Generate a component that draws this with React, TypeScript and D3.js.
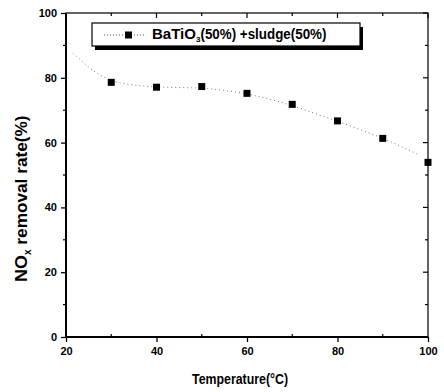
import React, { useRef, useEffect } from "react";
import * as d3 from "d3";

// measured points
const temps = [30, 40, 50, 60, 70, 80, 90, 100];
const removal = [78.6, 77.1, 77.3, 75.2, 71.8, 66.7, 61.3, 53.9];

// fitted (dotted) curve
const fitTemps = [21.5, 23, 25, 27, 30, 35, 40, 45, 50, 55, 60, 65, 70, 75, 80, 85, 90, 95, 98];
const fitValues = [87.6, 85.8, 83.3, 81.3, 79.2, 77.8, 77.2, 77.0, 76.8, 76.1, 75.0, 73.4, 71.4, 69.0, 66.6, 64.0, 61.3, 58.2, 56.2];

const xTicks = [20, 40, 60, 80, 100];
const xMinor = [30, 50, 70, 90];
const yTicks = [0, 20, 40, 60, 80, 100];
const yMinor = [10, 30, 50, 70, 90];

const legendLabel = "BaTiO";

export default function App() {
  const svgRef = useRef<SVGSVGElement>(null);

  useEffect(() => {
    if (!svgRef.current) return;
    const svg = d3.select(svgRef.current);
    svg.selectAll("*").remove();

    const margin = { top: 13, right: 16, bottom: 55, left: 66 };
    const width = 444;
    const height = 392;
    const innerWidth = width - margin.left - margin.right;
    const innerHeight = height - margin.top - margin.bottom;
    const font = "Liberation Sans, Arial, sans-serif";

    const x = d3.scaleLinear().domain([20, 100]).range([0, innerWidth]);
    const y = d3.scaleLinear().domain([0, 100]).range([innerHeight, 0]);

    const g = svg.append("g").attr("transform", `translate(${margin.left},${margin.top})`);

    // frame
    g.append("rect")
      .attr("width", innerWidth)
      .attr("height", innerHeight)
      .attr("fill", "none")
      .attr("stroke", "#111")
      .attr("stroke-width", 1.3);
    // heavier left/bottom axes
    g.append("line").attr("x1", 0).attr("x2", 0).attr("y1", 0).attr("y2", innerHeight)
      .attr("stroke", "#000").attr("stroke-width", 2);
    g.append("line").attr("x1", 0).attr("x2", innerWidth).attr("y1", innerHeight).attr("y2", innerHeight)
      .attr("stroke", "#000").attr("stroke-width", 2);

    // bottom axis
    const xAxis = g.append("g").attr("transform", `translate(0,${innerHeight})`)
      .call(d3.axisBottom(x).tickValues(xTicks).tickSize(5).tickFormat(d => `${d}`));
    xAxis.select(".domain").remove();
    xAxis.selectAll("line").attr("stroke", "#000").attr("stroke-width", 1.3);
    xAxis.selectAll("text")
      .attr("font-family", font).attr("font-size", 11).attr("font-weight", "bold")
      .attr("fill", "#000").attr("dy", "0.95em");
    g.append("g").selectAll("line").data(xMinor).join("line")
      .attr("x1", d => x(d)).attr("x2", d => x(d))
      .attr("y1", innerHeight).attr("y2", innerHeight - 3)
      .attr("stroke", "#000").attr("stroke-width", 1.2);

    // top axis ticks (inward)
    g.append("g").selectAll("line").data([...xTicks, ...xMinor]).join("line")
      .attr("x1", d => x(d)).attr("x2", d => x(d))
      .attr("y1", 0).attr("y2", d => (xTicks.includes(d) ? 5 : 3))
      .attr("stroke", "#000").attr("stroke-width", 1.2);

    // left axis
    const yAxis = g.append("g")
      .call(d3.axisLeft(y).tickValues(yTicks).tickSize(5).tickFormat(d => `${d}`));
    yAxis.select(".domain").remove();
    yAxis.selectAll("line").attr("stroke", "#000").attr("stroke-width", 1.3);
    yAxis.selectAll("text")
      .attr("font-family", font).attr("font-size", 11).attr("font-weight", "bold")
      .attr("fill", "#000").attr("x", -9);
    g.append("g").selectAll("line").data(yMinor).join("line")
      .attr("x1", 0).attr("x2", -3)
      .attr("y1", d => y(d)).attr("y2", d => y(d))
      .attr("stroke", "#000").attr("stroke-width", 1.2);

    // right axis ticks (inward)
    g.append("g").selectAll("line").data([...yTicks, ...yMinor]).join("line")
      .attr("x1", innerWidth).attr("x2", d => innerWidth - (yTicks.includes(d) ? 5 : 3))
      .attr("y1", d => y(d)).attr("y2", d => y(d))
      .attr("stroke", "#000").attr("stroke-width", 1.2);

    // fitted dotted curve
    const fitLine = d3.line<number>()
      .x((_, i) => x(fitTemps[i]))
      .y(d => y(d))
      .curve(d3.curveMonotoneX);
    g.append("path")
      .datum(fitValues)
      .attr("fill", "none")
      .attr("stroke", "#777")
      .attr("stroke-width", 1)
      .attr("stroke-dasharray", "1,3")
      .attr("d", fitLine);

    // markers
    g.append("g").selectAll("rect").data(removal).join("rect")
      .attr("x", (_, i) => x(temps[i]) - 3.5)
      .attr("y", d => y(d) - 3.5)
      .attr("width", 7)
      .attr("height", 7)
      .attr("fill", "#000");

    // legend
    const lg = svg.append("g").attr("transform", "translate(92,23)");
    lg.append("rect").attr("x", 3).attr("y", 4).attr("width", 268).attr("height", 23).attr("fill", "#000");
    lg.append("rect").attr("x", 0).attr("y", 0).attr("width", 268).attr("height", 23)
      .attr("fill", "#fff").attr("stroke", "#000").attr("stroke-width", 1.2);
    lg.append("line").attr("x1", 12).attr("x2", 54).attr("y1", 12).attr("y2", 12)
      .attr("stroke", "#555").attr("stroke-width", 1).attr("stroke-dasharray", "1,2");
    lg.append("rect").attr("x", 33).attr("y", 8.5).attr("width", 7).attr("height", 7).attr("fill", "#000");
    const lt = lg.append("text").attr("x", 60).attr("y", 16)
      .attr("font-family", font).attr("font-size", 14).attr("font-weight", "bold").attr("fill", "#000");
    lt.append("tspan").attr("textLength", 44).attr("lengthAdjust", "spacingAndGlyphs").text(legendLabel);
    lt.append("tspan").attr("font-size", 8).attr("dy", 3).text("3");
    lt.append("tspan").attr("dy", -3).attr("textLength", 126).attr("lengthAdjust", "spacingAndGlyphs")
      .text("(50%) +sludge(50%)");

    // axis titles
    svg.append("text")
      .attr("x", 192).attr("y", 384)
      .attr("textLength", 96).attr("lengthAdjust", "spacingAndGlyphs")
      .attr("font-family", font).attr("font-size", 14).attr("font-weight", "bold").attr("fill", "#000")
      .text("Temperature(°C)");

    const yt = svg.append("text")
      .attr("transform", "translate(27,282) rotate(-90)")
      .attr("font-family", font).attr("font-size", 17).attr("font-weight", "bold").attr("fill", "#000");
    yt.append("tspan").attr("textLength", 27).attr("lengthAdjust", "spacingAndGlyphs").text("NO");
    yt.append("tspan").attr("font-size", 10).attr("dy", 4).text("x");
    yt.append("tspan").attr("dy", -4).attr("textLength", 134).attr("lengthAdjust", "spacingAndGlyphs")
      .text(" removal rate(%)");
  }, []);

  return (
    <svg
      ref={svgRef}
      width={444}
      height={392}
      style={{ position: "absolute", left: 0, top: 0, background: "#fff" }}
    />
  );
}
